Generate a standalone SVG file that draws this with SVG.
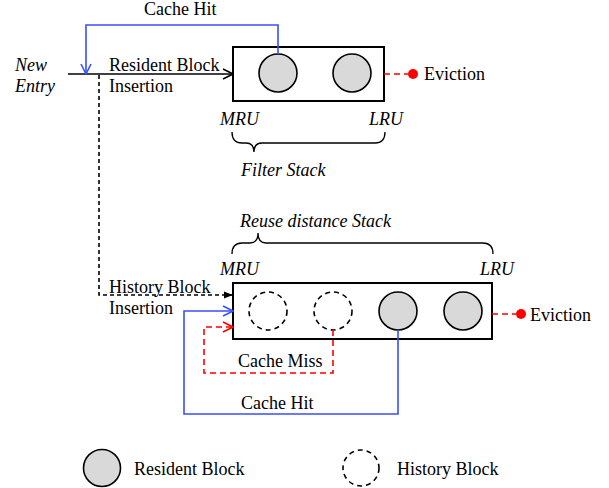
<svg xmlns="http://www.w3.org/2000/svg" width="609" height="488" viewBox="0 0 609 488">
<defs>
<style>
text{font-family:"Liberation Serif","Times New Roman",serif;font-size:18px;fill:#000}
.it{font-style:italic}
.box{fill:#fff;stroke:#000;stroke-width:2}
.res{fill:#d9d9d9;stroke:#000;stroke-width:1.6}
.hist{fill:none;stroke:#000;stroke-width:1.6;stroke-dasharray:5,4}
.blue{fill:none;stroke:#3a4fff;stroke-width:1.6}
.red{fill:none;stroke:#ff0000;stroke-width:1.6;stroke-dasharray:6,4}
.blk{fill:none;stroke:#000;stroke-width:1.6}
.blkd{fill:none;stroke:#000;stroke-width:1.6;stroke-dasharray:4,3}
.brace{fill:none;stroke:#000;stroke-width:1.3}
</style>
<marker id="openK" viewBox="0 0 12 12" refX="11" refY="6" markerWidth="12" markerHeight="12" markerUnits="userSpaceOnUse" orient="auto"><path d="M1,1 L11,6 L1,11" fill="none" stroke="#000" stroke-width="1.6"/></marker>
<marker id="openB" viewBox="0 0 12 12" refX="11" refY="6" markerWidth="12" markerHeight="12" markerUnits="userSpaceOnUse" orient="auto"><path d="M1,1 L11,6 L1,11" fill="none" stroke="#3a4fff" stroke-width="1.6"/></marker>
<marker id="openR" viewBox="0 0 12 12" refX="11" refY="6" markerWidth="12" markerHeight="12" markerUnits="userSpaceOnUse" orient="auto"><path d="M1,1 L11,6 L1,11" fill="none" stroke="#ff0000" stroke-width="1.6"/></marker>
<marker id="fillK" viewBox="0 0 10 10" refX="9" refY="5" markerWidth="9" markerHeight="9" markerUnits="userSpaceOnUse" orient="auto"><path d="M0,1 L10,5 L0,9 Z" fill="#000"/></marker>
</defs>

<g id="filter-stack">
<rect class="box" x="233" y="47" width="151" height="54"/>
<circle class="res" cx="278" cy="73" r="19"/>
<circle class="res" cx="352" cy="73" r="19"/>
<text x="220" y="125" class="it">MRU</text>
<text x="369" y="125" class="it">LRU</text>
<path class="brace" d="M232,132 Q232,143 242,143 L246,143 Q254,143 254,152 Q254,143 262,143 L375,143 Q385,143 385,132"/>
<text x="241" y="176" class="it">Filter Stack</text>
</g>

<g id="reuse-stack">
<rect class="box" x="233" y="283" width="259" height="56"/>
<circle class="hist" cx="268" cy="311" r="19"/>
<circle class="hist" cx="333" cy="311" r="19"/>
<circle class="res" cx="398" cy="311" r="19"/>
<circle class="res" cx="463" cy="311" r="19"/>
<text x="220" y="275" class="it">MRU</text>
<text x="480" y="275" class="it">LRU</text>
<path class="brace" d="M232,254 Q232,243 242,243 L250,243 Q258,243 258,233 Q258,243 266,243 L483,243 Q493,243 493,254"/>
<text x="240" y="227" class="it">Reuse distance Stack</text>
</g>

<g id="new-entry">
<text x="15" y="71" class="it">New</text>
<text x="15" y="92" class="it">Entry</text>
</g>

<g id="eviction-top">
<circle cx="413" cy="74" r="5" fill="#ff0000"/>
<text x="424" y="80">Eviction</text>
</g>
<g id="eviction-bottom">
<circle cx="521" cy="314" r="5" fill="#ff0000"/>
<text x="530" y="321">Eviction</text>
</g>

<g id="legend">
<circle class="res" cx="102" cy="468" r="18.5"/>
<text x="134" y="475">Resident Block</text>
<circle class="hist" cx="361" cy="468" r="18"/>
<text x="397" y="475">History Block</text>
</g>

<g id="connectors">
<path class="blk" d="M68,74 L233,74" marker-end="url(#openK)"/>
<path class="blue" d="M278,54 L278,25 L86,25 L86,74" marker-end="url(#openB)"/>
<path class="red" d="M384,74 L408,74"/>
<path class="red" d="M492,314 L516,314"/>
<path class="blkd" d="M99,75 L99,295 L232,295" marker-end="url(#fillK)"/>
<path class="blue" d="M398,330 L398,414 L184,414 L184,311 L233,311" marker-end="url(#openB)"/>
<path class="red" d="M333,330 L333,373 L204,373 L204,327 L233,327" marker-end="url(#openR)"/>
<text x="144" y="15">Cache Hit</text>
<text x="109" y="71">Resident Block</text>
<text x="109" y="92">Insertion</text>
<text x="109" y="293">History Block</text>
<text x="109" y="314">Insertion</text>
<text x="238" y="367">Cache Miss</text>
<text x="241" y="409">Cache Hit</text>
</g>
</svg>
